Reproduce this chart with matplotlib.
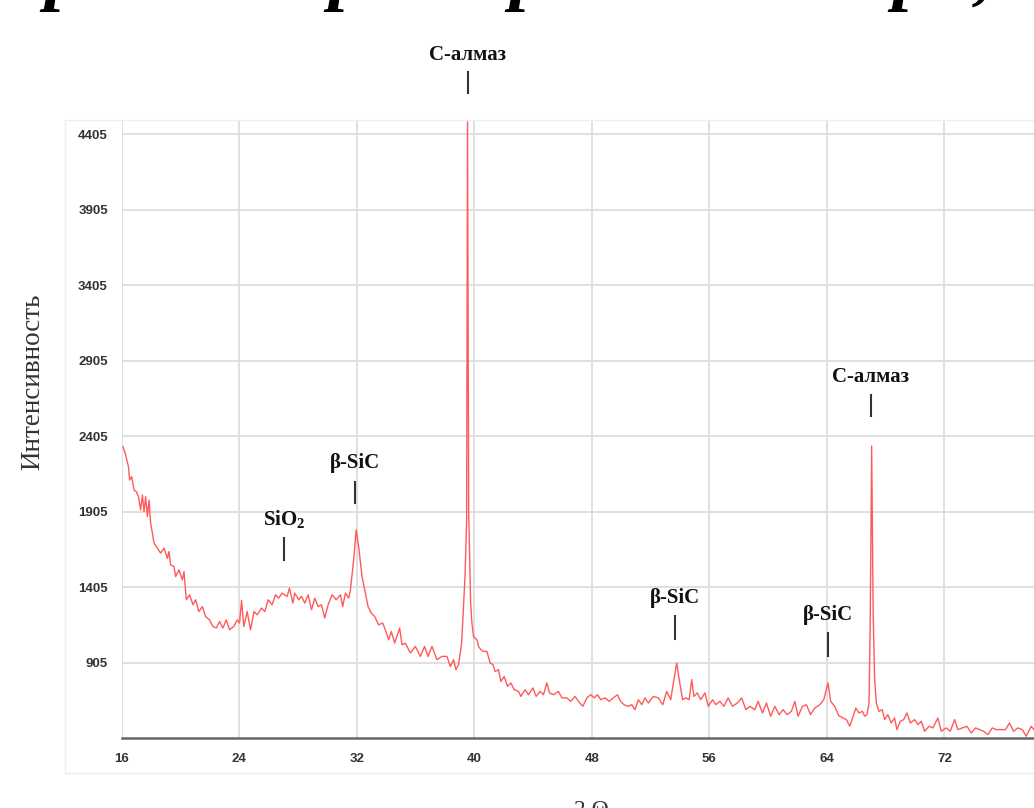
import matplotlib
matplotlib.use("Agg")
import matplotlib.pyplot as plt
from matplotlib.patches import Rectangle
import numpy as np

# XRD pattern: 2-theta (deg) and intensity (counts)
two_theta = [
    16.09, 16.27, 16.46, 16.54, 16.68, 16.84, 17.00, 17.14, 17.29, 17.41,
    17.52, 17.63, 17.75, 17.86, 17.97, 18.09, 18.20, 18.43, 18.65, 18.88,
    19.11, 19.22, 19.33, 19.56, 19.67, 19.90, 20.13, 20.24, 20.40, 20.62,
    20.85, 21.03, 21.25, 21.49, 21.71, 21.98, 22.21, 22.44, 22.66, 22.89,
    23.12, 23.34, 23.63, 23.87, 24.02, 24.16, 24.31, 24.54, 24.77, 25.00,
    25.22, 25.52, 25.74, 25.97, 26.24, 26.47, 26.69, 26.92, 27.26, 27.42,
    27.65, 27.78, 28.05, 28.24, 28.46, 28.69, 28.92, 29.14, 29.37, 29.60,
    29.82, 30.05, 30.32, 30.60, 30.89, 31.04, 31.23, 31.45, 31.57, 31.79,
    31.96, 32.13, 32.36, 32.54, 32.77, 32.99, 33.22, 33.49, 33.76, 33.95,
    34.17, 34.35, 34.58, 34.92, 35.08, 35.31, 35.65, 35.99, 36.33, 36.62,
    36.85, 37.12, 37.46, 37.80, 38.14, 38.37, 38.59, 38.75, 38.93, 39.14,
    39.37, 39.48, 39.54, 39.62, 39.75, 39.84, 39.95, 40.18, 40.29, 40.45,
    40.63, 40.86, 41.08, 41.27, 41.42, 41.65, 41.81, 42.04, 42.26, 42.49,
    42.72, 43.01, 43.17, 43.46, 43.69, 43.99, 44.21, 44.48, 44.71, 44.94,
    45.12, 45.39, 45.73, 45.96, 46.30, 46.57, 46.86, 47.09, 47.39, 47.66,
    47.93, 48.16, 48.38, 48.61, 48.90, 49.19, 49.47, 49.74, 49.97, 50.19,
    50.49, 50.72, 50.94, 51.17, 51.40, 51.62, 51.85, 52.19, 52.53, 52.83,
    53.10, 53.37, 53.59, 53.78, 53.95, 54.18, 54.41, 54.63, 54.80, 54.95,
    55.18, 55.41, 55.70, 55.93, 56.22, 56.45, 56.72, 56.99, 57.28, 57.58,
    57.90, 58.20, 58.49, 58.76, 59.10, 59.32, 59.62, 59.89, 60.17, 60.46,
    60.75, 61.02, 61.30, 61.59, 61.82, 62.04, 62.34, 62.61, 62.89, 63.18,
    63.52, 63.79, 64.08, 64.26, 64.54, 64.81, 65.10, 65.33, 65.56, 65.79,
    65.97, 66.19, 66.42, 66.58, 66.73, 66.87, 66.95, 67.05, 67.15, 67.25,
    67.37, 67.54, 67.77, 67.93, 68.15, 68.38, 68.61, 68.77, 69.00, 69.23,
    69.45, 69.68, 69.97, 70.20, 70.43, 70.66, 70.95, 71.22, 71.56, 71.79,
    72.13, 72.40, 72.70, 72.92, 73.22, 73.53, 73.83, 74.12, 74.39, 74.67,
    74.96, 75.26, 75.53, 75.87, 76.16, 76.43, 76.71, 77.00, 77.30, 77.57,
    77.91, 78.20, 78.50,
]
intensity = [
    2336, 2281, 2203, 2115, 2137, 2049, 2038, 2005, 1917, 2016,
    1906, 2005, 1873, 1983, 1829, 1763, 1697, 1664, 1631, 1664,
    1597, 1641, 1553, 1542, 1476, 1520, 1454, 1509, 1322, 1355,
    1289, 1322, 1244, 1277, 1211, 1189, 1145, 1135, 1178, 1135,
    1189, 1123, 1145, 1189, 1168, 1317, 1145, 1244, 1123, 1244,
    1222, 1267, 1244, 1322, 1289, 1355, 1333, 1366, 1344, 1399,
    1300, 1366, 1322, 1344, 1300, 1355, 1256, 1333, 1277, 1289,
    1201, 1289, 1355, 1322, 1355, 1277, 1366, 1333, 1388, 1586,
    1785, 1674, 1476, 1388, 1277, 1234, 1211, 1156, 1168, 1123,
    1057, 1112, 1035, 1135, 1024, 1035, 969, 1013, 947, 1013,
    947, 1013, 925, 947, 947, 880, 925, 859, 892, 1035,
    1476, 1851, 4490, 1900, 1300, 1168, 1079, 1057, 1013, 991,
    980, 980, 903, 892, 847, 859, 781, 814, 748, 771,
    726, 715, 682, 726, 693, 738, 682, 715, 693, 771,
    705, 693, 715, 672, 672, 649, 682, 649, 616, 672,
    693, 672, 693, 660, 672, 649, 672, 693, 649, 627,
    616, 627, 594, 660, 627, 672, 638, 682, 672, 627,
    715, 660, 793, 903, 793, 660, 672, 660, 793, 682,
    705, 660, 705, 616, 660, 627, 649, 616, 672, 616,
    638, 672, 594, 616, 594, 649, 572, 638, 550, 616,
    561, 594, 561, 583, 649, 550, 616, 627, 561, 605,
    627, 660, 771, 649, 616, 554, 539, 528, 484, 550,
    605, 572, 583, 550, 561, 638, 1150, 2340, 1250, 800,
    638, 583, 594, 528, 561, 506, 539, 462, 517, 528,
    572, 506, 528, 495, 517, 451, 484, 473, 539, 451,
    473, 451, 528, 462, 473, 484, 440, 473, 462, 451,
    429, 473, 462, 462, 462, 506, 451, 473, 462, 418,
    484, 450, 470,
]

x_ticks = [16, 24, 32, 40, 48, 56, 64, 72]
y_ticks = [905, 1405, 1905, 2405, 2905, 3405, 3905, 4405]

# phase labels: peak position, label, tick bottom/top, text baseline
peak_pos = [39.54, 67.00, 31.90, 27.05, 53.69, 64.05]
peak_names = ["C-алмаз", "C-алмаз", "β-SiC", "SiO$_\\mathbf{2}$", "β-SiC", "β-SiC"]
mark_low = [4677, 2539, 1965, 1585, 1065, 947]
mark_high = [4820, 2678, 2104, 1731, 1212, 1099]
label_base = [4897, 2766, 2193, 1817, 1302, 1189]

plt.rcParams['mathtext.fontset'] = 'custom'
plt.rcParams['mathtext.rm'] = 'Liberation Serif'
plt.rcParams['mathtext.bf'] = 'Liberation Serif:bold'

fig = plt.figure(figsize=(10.34, 8.08), dpi=100)
fig.patch.set_facecolor('white')

# faint frame around the chart area
fig.add_artist(Rectangle((65 / 1034, 1 - 773 / 808), 1.0, (773 - 120) / 808,
                         transform=fig.transFigure, fill=False,
                         edgecolor='#eeeeee', lw=1.0))

ax = fig.add_axes([121.7 / 1034, 1 - 738.2 / 808, 940.2 / 1034, 617.7 / 808])
ax.plot(two_theta, intensity, color='#ff5a5a', lw=1.0, zorder=3)

ax.set_xlim(16, 80)
ax.set_ylim(405, 4497)
ax.set_xticks(x_ticks)
ax.set_yticks(y_ticks)
ax.grid(True, color='#dddddd', lw=1.3, zorder=0)
ax.tick_params(length=0, labelsize=9.5, labelcolor='#333333')
ax.tick_params(axis='x', pad=11)
ax.tick_params(axis='y', pad=10)
for lab in ax.get_xticklabels() + ax.get_yticklabels():
    lab.set_fontweight('bold')
    lab.set_fontfamily('Liberation Sans')

for side in ['top', 'right', 'left']:
    ax.spines[side].set_visible(False)
ax.spines['bottom'].set_color('#666666')
ax.spines['bottom'].set_linewidth(1.8)

for xp, name, lo, hi, yb in zip(peak_pos, peak_names, mark_low, mark_high, label_base):
    ax.plot([xp, xp], [lo, hi], color='#333333', lw=1.5, clip_on=False, zorder=4)
    ax.text(xp, yb, name, ha='center', va='baseline', fontsize=15,
            fontweight='bold', family='Liberation Serif', color='#111111',
            clip_on=False)

fig.text(33 / 1034, 1 - 382 / 808, 'Интенсивность', rotation=90,
         ha='center', va='center', fontsize=19.5, family='Liberation Serif',
         color='#333333')
fig.text(591 / 1034, 1 - 800 / 808, '2 Θ', ha='center', va='top',
         fontsize=17, family='Liberation Serif', color='#333333')

# caption above the chart, mostly outside the page
for xc, ch in zip([63, 347, 528, 911, 983], ['р', 'р', 'р', 'р', ',']):
    fig.text(xc / 1034, 1 - 12 / 808, ch, ha='center', va='bottom',
             fontsize=54, fontweight='bold', fontstyle='italic',
             family='Liberation Serif', color='black')

fig.savefig('out.png', dpi=100, facecolor='white')
